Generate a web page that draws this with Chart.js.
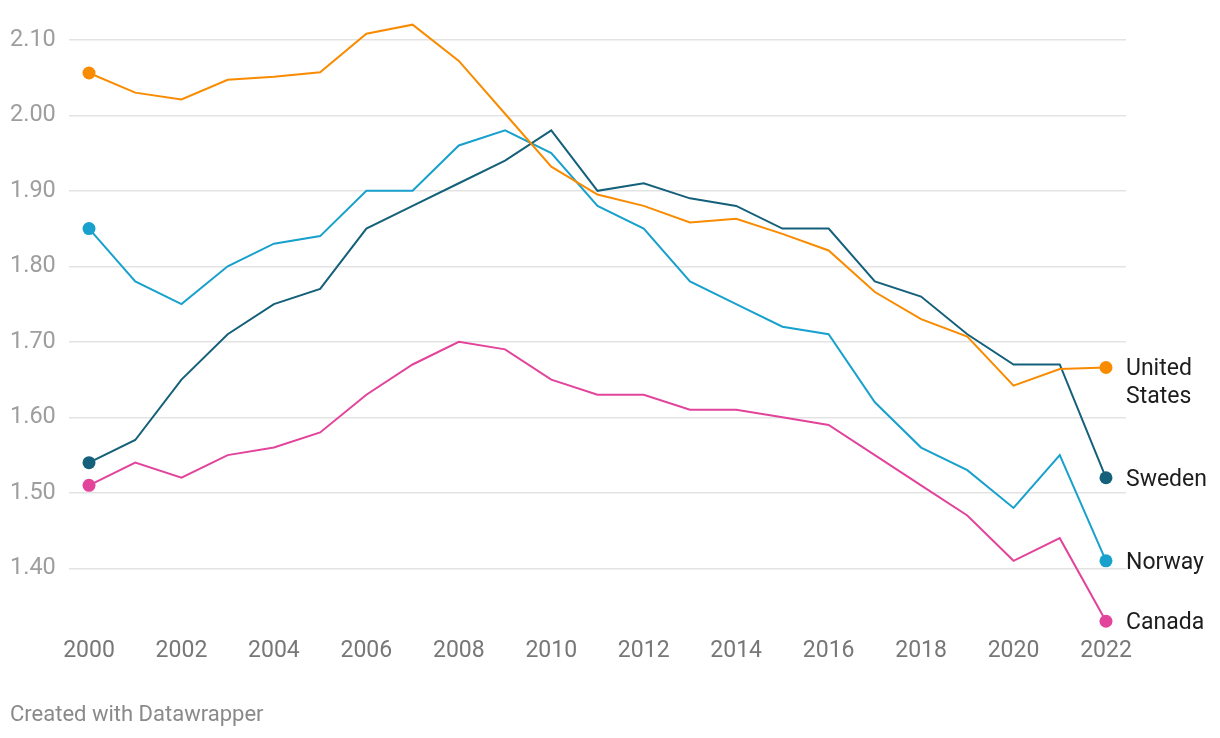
<!DOCTYPE html>
<html>
<head>
<meta charset="utf-8">
<script src="https://cdn.jsdelivr.net/npm/chart.js@4/dist/chart.umd.min.js"></script>
<style>
  html, body { margin: 0; padding: 0; background: #fff; }
  #wrap { position: relative; width: 1220px; height: 738px; }
  #footer {
    position: absolute; left: 10px; top: 701px;
    font-family: Roboto, sans-serif; font-size: 22px; color: #8a8a8a;
  }
</style>
</head>
<body>
<div id="wrap">
  <canvas id="fertility-chart" width="1220" height="738"></canvas>
  <div id="footer">Created with Datawrapper</div>
</div>
<script>
// Years on the x axis
const years = [2000, 2001, 2002, 2003, 2004, 2005, 2006, 2007, 2008, 2009, 2010,
    2011, 2012, 2013, 2014, 2015, 2016, 2017, 2018, 2019, 2020, 2021, 2022];

// Values
const unitedStates = [2.056, 2.030, 2.021, 2.047, 2.051, 2.057, 2.108, 2.120, 2.072, 2.002, 1.932,
    1.895, 1.880, 1.858, 1.863, 1.843, 1.821, 1.766, 1.730, 1.707, 1.642, 1.664, 1.666];
const sweden = [1.54, 1.57, 1.65, 1.71, 1.75, 1.77, 1.85, 1.88, 1.91, 1.94, 1.98,
    1.90, 1.91, 1.89, 1.88, 1.85, 1.85, 1.78, 1.76, 1.71, 1.67, 1.67, 1.52];
const norway = [1.85, 1.78, 1.75, 1.80, 1.83, 1.84, 1.90, 1.90, 1.96, 1.98, 1.95,
    1.88, 1.85, 1.78, 1.75, 1.72, 1.71, 1.62, 1.56, 1.53, 1.48, 1.55, 1.41];
const canada = [1.51, 1.54, 1.52, 1.55, 1.56, 1.58, 1.63, 1.67, 1.70, 1.69, 1.65,
    1.63, 1.63, 1.61, 1.61, 1.60, 1.59, 1.55, 1.51, 1.47, 1.41, 1.44, 1.33];

// Tick labels
const yTicks = [1.40, 1.50, 1.60, 1.70, 1.80, 1.90, 2.00, 2.10];
const xTicks = [2000, 2002, 2004, 2006, 2008, 2010, 2012, 2014, 2016, 2018, 2020, 2022];

const series = [
    { label: 'United States', lines: ['United', 'States'], values: unitedStates, color: '#f98b00' },
    { label: 'Sweden', lines: ['Sweden'], values: sweden, color: '#15607a' },
    { label: 'Norway', lines: ['Norway'], values: norway, color: '#18a1cd' },
    { label: 'Canada', lines: ['Canada'], values: canada, color: '#e2449b' }
];

const FONT = 'Roboto, sans-serif';
const lastIndex = years.length - 1;

// Direct labels at the end of each line
const endLabels = {
    id: 'endLabels',
    afterDatasetsDraw(chart) {
        const { ctx, scales } = chart;
        ctx.save();
        ctx.font = '23px ' + FONT;
        ctx.fillStyle = '#1d1d1d';
        ctx.textAlign = 'left';
        ctx.textBaseline = 'middle';
        series.forEach(s => {
            const x = scales.x.getPixelForValue(years[lastIndex]) + 20;
            const y = scales.y.getPixelForValue(s.values[lastIndex]) + 2;
            s.lines.forEach((line, i) => ctx.fillText(line, x, y + i * 28));
        });
        ctx.restore();
    }
};

const ctx = document.getElementById('fertility-chart').getContext('2d');

new Chart(ctx, {
    type: 'line',
    data: {
        datasets: series.map(s => ({
            label: s.label,
            data: years.map((yr, i) => ({ x: yr, y: s.values[i] })),
            borderColor: s.color,
            backgroundColor: s.color,
            borderWidth: 2,
            tension: 0,
            fill: false,
            pointRadius: c => (c.dataIndex === 0 || c.dataIndex === lastIndex) ? 6.5 : 0,
            pointHoverRadius: 0,
            pointBorderWidth: 0
        }))
    },
    options: {
        responsive: false,
        animation: false,
        layout: {
            padding: { left: 10, right: 94, top: 13.2, bottom: 69.2 }
        },
        plugins: {
            legend: { display: false },
            tooltip: { enabled: false }
        },
        scales: {
            x: {
                type: 'linear',
                min: 1999.567,
                max: 2022.433,
                afterBuildTicks: axis => { axis.ticks = xTicks.map(v => ({ value: v })); },
                afterFit: axis => { axis.height = 40; },
                grid: { display: false, drawTicks: false },
                border: { display: false },
                ticks: {
                    color: '#777',
                    padding: 9,
                    maxRotation: 0,
                    autoSkip: false,
                    font: { family: FONT, size: 23 },
                    callback: v => String(v)
                }
            },
            y: {
                min: 1.32,
                max: 2.13,
                afterBuildTicks: axis => { axis.ticks = yTicks.map(v => ({ value: v })); },
                afterFit: axis => { axis.width = 59; },
                grid: { color: '#e3e3e3', lineWidth: 1.5, drawTicks: false },
                border: { display: false },
                ticks: {
                    color: '#9e9e9e',
                    crossAlign: 'far',
                    font: { family: FONT, size: 23.5 },
                    callback: v => v.toFixed(2)
                }
            }
        }
    },
    plugins: [endLabels]
});
</script>
</body>
</html>
